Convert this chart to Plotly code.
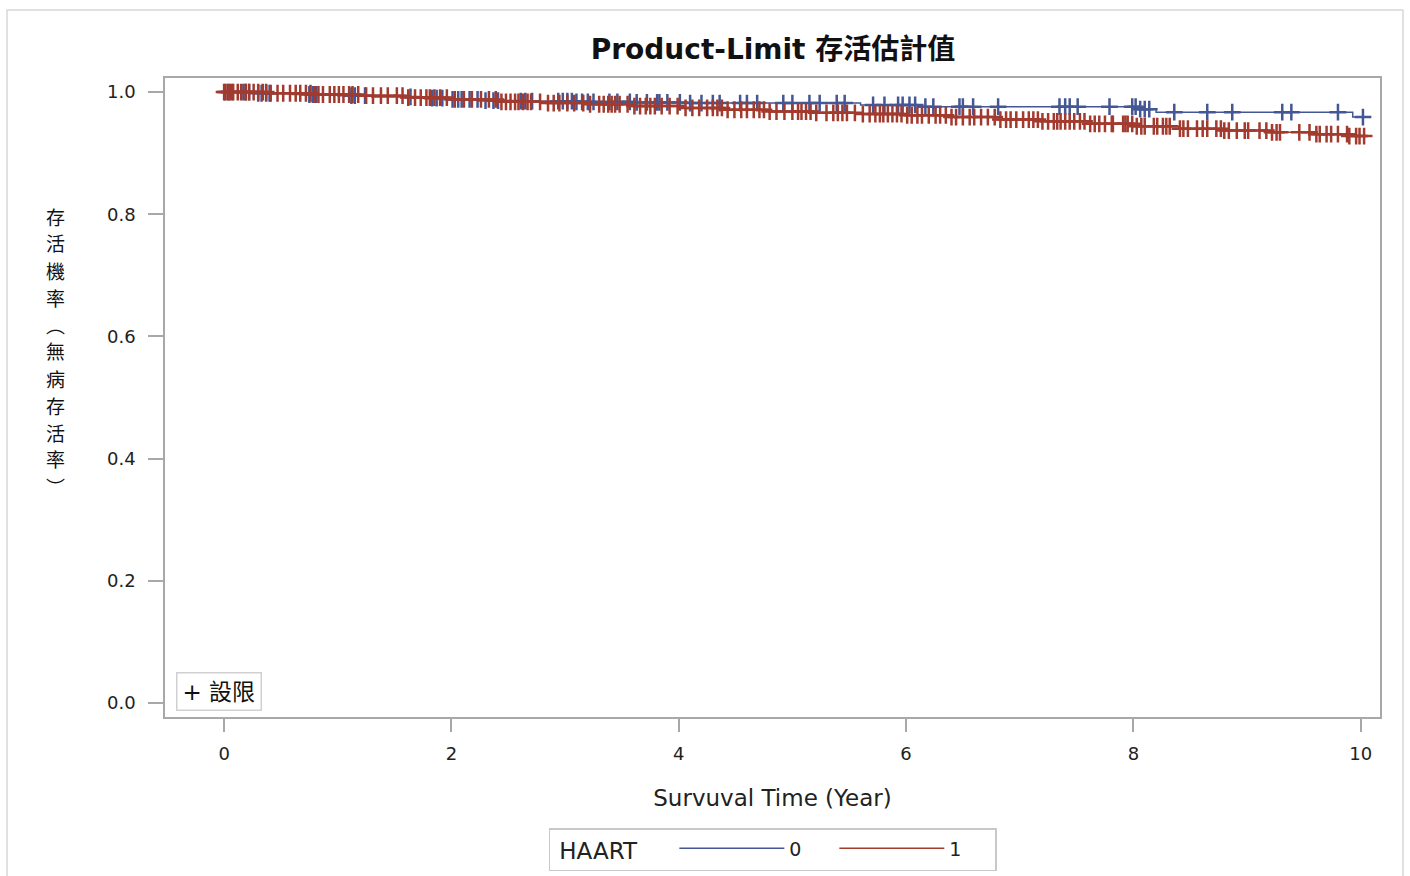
import numpy as np
import plotly.graph_objects as go

# ---- data ----
groups = ["0", "1"]

blue_time = [0, 0.30, 0.60, 1.00, 1.30, 1.70, 2.00, 2.30, 2.60, 3.10, 3.60, 4.10, 5.60, 6.10, 8.05, 8.20, 9.93, 10.02]
blue_surv = [1.000, 0.998, 0.996, 0.994, 0.992, 0.990, 0.988, 0.986, 0.985, 0.984, 0.983, 0.982, 0.979, 0.976, 0.972, 0.967, 0.959, 0.959]

red_time = [0, 0.40, 0.80, 1.20, 1.60, 2.00, 2.40, 2.80, 3.20, 3.60, 4.00, 4.40, 4.80, 5.20, 5.60, 6.00,
            6.40, 6.80, 7.20, 7.60, 8.00, 8.40, 8.80, 9.20, 9.60, 9.90, 10.05]
red_surv = [1.000, 0.998, 0.996, 0.994, 0.991, 0.988, 0.984, 0.982, 0.980, 0.977, 0.974, 0.971, 0.968, 0.966,
            0.964, 0.962, 0.959, 0.955, 0.952, 0.948, 0.944, 0.940, 0.937, 0.934, 0.931, 0.928, 0.928]

blue_censor = [0.01, 0.04, 0.07, 0.17, 0.19, 0.22, 0.30, 0.33, 0.37, 0.40, 0.75, 0.78, 0.81, 1.12, 1.15, 1.24,
               1.64, 1.83, 1.87, 1.92, 2.01, 2.06, 2.09, 2.16, 2.23, 2.30, 2.37, 2.41, 2.61, 2.65, 2.71, 2.94,
               2.98, 3.02, 3.06, 3.10, 3.15, 3.20, 3.25, 3.39, 3.46, 3.57, 3.63, 3.72, 3.81, 3.83, 3.90, 4.01,
               4.10, 4.20, 4.30, 4.36, 4.54, 4.60, 4.69, 4.92, 5.00, 5.15, 5.24, 5.39, 5.46, 5.71, 5.81, 5.93,
               5.97, 6.03, 6.08, 6.17, 6.24, 6.47, 6.50, 6.59, 6.81, 7.35, 7.40, 7.44, 7.51, 7.79, 7.99, 8.02,
               8.06, 8.10, 8.14, 8.36, 8.65, 8.87, 9.31, 9.39, 9.80, 10.02]

red_censor = [0.00, 0.03, 0.05, 0.08, 0.12, 0.15, 0.19, 0.22, 0.26, 0.30, 0.34, 0.37, 0.41, 0.47, 0.52, 0.58,
              0.63, 0.67, 0.72, 0.76, 0.80, 0.83, 0.87, 0.93, 0.97, 1.01, 1.05, 1.10, 1.13, 1.18, 1.25, 1.31,
              1.38, 1.44, 1.52, 1.57, 1.62, 1.68, 1.73, 1.78, 1.81, 1.85, 1.90, 1.96, 2.03, 2.11, 2.18, 2.26,
              2.33, 2.39, 2.44, 2.48, 2.52, 2.56, 2.59, 2.63, 2.67, 2.70, 2.78, 2.85, 2.90, 2.95, 3.02, 3.08,
              3.16, 3.22, 3.30, 3.34, 3.38, 3.41, 3.44, 3.48, 3.55, 3.61, 3.66, 3.71, 3.75, 3.79, 3.85, 3.92,
              3.99, 4.06, 4.12, 4.18, 4.25, 4.30, 4.34, 4.38, 4.43, 4.49, 4.55, 4.60, 4.66, 4.71, 4.75, 4.80,
              4.86, 4.93, 5.00, 5.05, 5.08, 5.12, 5.16, 5.21, 5.30, 5.36, 5.40, 5.44, 5.48, 5.55, 5.62, 5.68,
              5.73, 5.77, 5.80, 5.84, 5.88, 5.92, 5.96, 6.01, 6.05, 6.10, 6.14, 6.20, 6.26, 6.30, 6.35, 6.40,
              6.44, 6.50, 6.56, 6.60, 6.66, 6.72, 6.78, 6.83, 6.88, 6.92, 6.97, 7.03, 7.08, 7.12, 7.16, 7.20,
              7.25, 7.30, 7.33, 7.36, 7.40, 7.44, 7.48, 7.53, 7.57, 7.62, 7.66, 7.70, 7.75, 7.81, 7.82, 7.91,
              7.93, 7.95, 7.99, 8.03, 8.07, 8.10, 8.18, 8.21, 8.26, 8.29, 8.32, 8.41, 8.44, 8.48, 8.56, 8.61,
              8.65, 8.73, 8.77, 8.80, 8.84, 8.91, 8.98, 9.01, 9.11, 9.17, 9.22, 9.26, 9.29, 9.46, 9.55, 9.61,
              9.64, 9.70, 9.74, 9.80, 9.88, 9.90, 9.96, 9.99, 10.03]

x_ticks = [0, 2, 4, 6, 8, 10]
y_ticks = [0.0, 0.2, 0.4, 0.6, 0.8, 1.0]
y_title_chars = list("存活機率︵無病存活率︶")

colors = {"0": "#445694", "1": "#A23A2E"}


def surv_at(times, survs, t):
    idx = np.searchsorted(np.asarray(times), np.asarray(t), side="right") - 1
    idx = np.clip(idx, 0, len(survs) - 1)
    return np.asarray(survs)[idx]


fig = go.Figure()
series = {"0": (blue_time, blue_surv, blue_censor), "1": (red_time, red_surv, red_censor)}
for g in groups:
    t, s, c = series[g]
    fig.add_trace(go.Scatter(x=t, y=s, mode="lines", line=dict(color=colors[g], width=1.5, shape="hv"),
                             name=g, showlegend=True))
for g in groups:
    t, s, c = series[g]
    fig.add_trace(go.Scatter(x=c, y=surv_at(t, s, c), mode="markers",
                             marker=dict(symbol="cross-thin-open", size=12, color=colors[g],
                                         line=dict(color=colors[g], width=2.5)),
                             showlegend=False, hoverinfo="skip"))

axis_col = "#A8A8A8"
tick_font = dict(family="DejaVu Sans, Verdana, sans-serif", size=18, color="#222")

W, H = 1410, 876
L, R, T, B = 165, 30, 78, 159
PW, PH = W - L - R, H - T - B


def px_x(x):
    return (x - L) / PW


def px_y(y):
    return (H - B - y) / PH


fig.update_layout(
    width=W, height=H,
    paper_bgcolor="white", plot_bgcolor="white",
    margin=dict(l=L, r=R, t=T, b=B, autoexpand=False),
    title=dict(text="<b>Product-Limit 存活估計值</b>", x=773 / W, xanchor="center",
               y=1 - 49 / H, yanchor="middle",
               font=dict(family="DejaVu Sans, Noto Sans CJK TC", size=28, color="#111")),
    xaxis=dict(range=[-0.52, 10.17], tickvals=x_ticks, ticktext=[str(v) for v in x_ticks],
               showgrid=False, zeroline=False, showline=True, mirror=True, linecolor=axis_col,
               linewidth=1.5, ticks="outside", ticklen=13, tickcolor=axis_col, tickwidth=1.5,
               tickfont=tick_font, ticklabelstandoff=7, automargin=False,
               title=dict(text="Survuval Time (Year)", standoff=27,
                          font=dict(family="DejaVu Sans, Verdana, sans-serif", size=23, color="#222"))),
    yaxis=dict(range=[-0.023, 1.023], tickvals=y_ticks, ticktext=[f"{v:.1f}" for v in y_ticks],
               showgrid=False, zeroline=False, showline=True, mirror=True, linecolor=axis_col,
               linewidth=1.5, ticks="outside", ticklen=15, tickcolor=axis_col, tickwidth=1.5,
               tickfont=tick_font, ticklabelstandoff=9, automargin=False),
    legend=dict(orientation="h", x=0.5, xanchor="center", y=px_y(828), yanchor="top",
                bordercolor="#C8C8C8", borderwidth=1.5, bgcolor="white",
                title=dict(text=" HAART    ", font=dict(family="DejaVu Sans", size=23, color="#222")),
                font=dict(family="DejaVu Sans", size=19, color="#222"), itemwidth=105,
                entrywidth=40, traceorder="normal"),
)

y0 = 216
for i, ch in enumerate(y_title_chars):
    fig.add_annotation(text=ch, xref="paper", yref="paper", x=px_x(55), y=px_y(y0 + i * 27),
                       xanchor="center", yanchor="middle", showarrow=False,
                       font=dict(family="Noto Sans CJK TC", size=19, color="#111"))

fig.add_annotation(text="+ 設限", xref="paper", yref="paper", x=px_x(176), y=px_y(711),
                   xanchor="left", yanchor="bottom", showarrow=False, bordercolor="#D0D0D0",
                   borderwidth=1.5, borderpad=5, bgcolor="white",
                   font=dict(family="DejaVu Sans, Noto Sans CJK TC", size=23, color="#111"))

fig.add_shape(type="rect", xref="paper", yref="paper", x0=px_x(7), x1=px_x(1403),
              y0=px_y(890), y1=px_y(10), line=dict(color="#D8D8D8", width=1.5),
              fillcolor="rgba(0,0,0,0)", layer="below")

fig.write_html("out.html", config={"displayModeBar": False},
               post_script="document.body.style.margin='0';document.body.style.overflow='hidden';")
